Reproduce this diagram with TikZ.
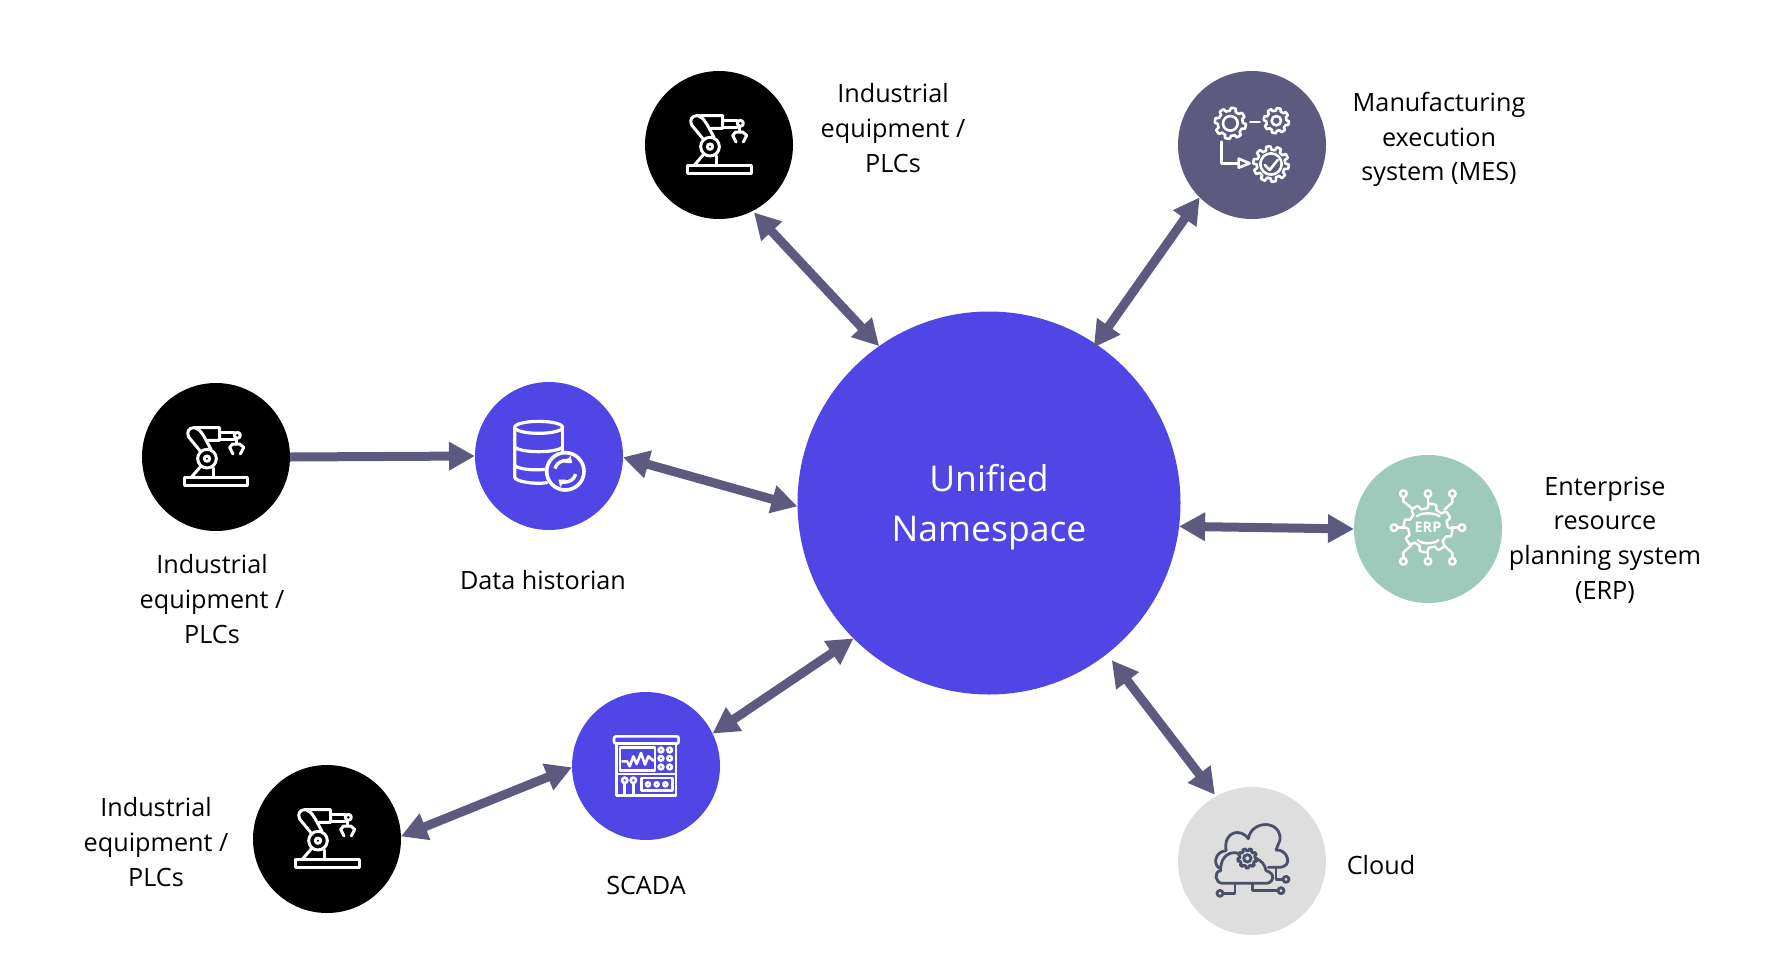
\documentclass[tikz,border=0pt]{standalone}
\usepackage{fontspec}
\setmainfont{Open Sans}
\usetikzlibrary{arrows.meta}
\definecolor{uns}{RGB}{79,70,229}
\definecolor{slate}{RGB}{92,91,127}
\definecolor{mint}{RGB}{158,202,188}
\definecolor{pale}{RGB}{222,222,222}
\definecolor{ink}{RGB}{74,80,104}
\newcommand{\gearcurve}[4]{%
  \draw plot[domain=0:360,samples=181,variable=\t]
  ({#1+#3*(1+.11*max(-1,min(1,3*sin(#4*\t))))*cos(\t)},
   {#2+#3*(1+.11*max(-1,min(1,3*sin(#4*\t))))*sin(\t)}) -- cycle;}
\tikzset{
  disc/.style={circle,inner sep=0pt,outer sep=0pt,minimum size=148pt,fill=#1},
  caption/.style={align=center,text=black,inner sep=0pt,font=\fontsize{25.2}{34.8}\selectfont},
  twoway/.style={slate,line width=9pt,{Triangle[length=26pt,width=27pt]}-{Triangle[length=26pt,width=27pt]}},
  oneway/.style={slate,line width=9pt,-{Triangle[length=26pt,width=27pt]}},
  iconline/.style={line width=3pt,line join=round,line cap=round},
  roboticon/.pic={
    \begin{scope}[x=.3333pt,y=-.3333pt,shift={(-267,-285)},white,iconline]
      \draw (172,347) rectangle (363,370);
      \draw (222,270) -- (185,225) .. controls (178,210) and (185,197) .. (200,197) -- (278,197) -- (278,235) -- (242,235);
      \draw (205,198) .. controls (222,205) and (225,215) .. (232,225) -- (252,262);
      \draw (240,290) circle[radius=28];
      \draw (240,290) circle[radius=8];
      \draw (222,312) -- (192,347);
      \draw (258,318) -- (258,347);
      \draw (278,212) -- (322,212);
      \draw (278,232) -- (322,232);
      \draw (331,220) circle[radius=9];
      \draw (327,232) -- (327,245);
      \draw (308,256) -- (318,276);
      \draw (350,256) -- (340,276);
      \draw (308,256) -- (317,246) -- (338,246) -- (350,256);
    \end{scope}},
  mesicon/.pic={
    \begin{scope}[x=.3333pt,y=-.3333pt,shift={(-245,-255)},white,iconline,line width=2.6pt]
      \gearcurve{180}{190}{42}{8}
      \draw (180,190) circle[radius=22];
      \gearcurve{318}{182}{34}{8}
      \draw (318,182) circle[radius=14];
      \draw (240,186) -- (268,186);
      \gearcurve{302}{312}{48}{10}
      \draw (302,312) circle[radius=32];
      \draw (283,315) -- (298,330) -- (322,300);
      \draw (153,245) -- (153,310) -- (205,310);
      \draw (205,296) -- (238,310) -- (205,323) -- cycle;
    \end{scope}},
  dbicon/.pic={
    \begin{scope}[x=.3333pt,y=-.3333pt,shift={(-251,-256)},white,iconline,line width=3.2pt]
      \draw (220,170) ellipse[x radius=72,y radius=18];
      \draw (148,170) -- (148,320) .. controls (150,332) and (205,342) .. (245,336);
      \draw (292,170) -- (292,245);
      \draw (148,228) .. controls (160,248) and (280,248) .. (292,228);
      \draw (148,284) .. controls (158,296) and (205,300) .. (240,296);
      \draw[line width=3.6pt,fill=uns] (300,302) circle[radius=56];
      \draw[line width=3.4pt,line cap=butt,-{Triangle[length=6pt,width=9pt]}] (300,302) ++(195:32) arc[start angle=195,end angle=310,radius=32];
      \draw[line width=3.4pt,line cap=butt,-{Triangle[length=6pt,width=9pt]}] (300,302) ++(15:32) arc[start angle=15,end angle=130,radius=32];
    \end{scope}},
  erpicon/.pic={
    \begin{scope}[x=.3333pt,y=-.3333pt,shift={(-249,-250)},white,iconline,line width=2.4pt]
      \gearcurve{249}{247}{66}{8}
      \draw (215,212) .. controls (228,200) and (270,200) .. (283,212);
      \draw (218,283) .. controls (230,296) and (268,296) .. (280,283);
      \foreach \px/\py in {175/144,249/144,322/144,147/246,351/246,175/347,249/347,322/347}
        \draw (\px,\py) circle[radius=10];
      \draw (175,154) -- (175,167) -- (204,190);
      \draw (249,154) -- (249,172);
      \draw (322,154) -- (322,170) -- (298,192);
      \draw (157,246) -- (178,246);
      \draw (341,246) -- (320,246);
      \draw (175,337) -- (175,320) -- (198,300);
      \draw (249,337) -- (249,318);
      \draw (322,337) -- (322,322) -- (298,300);
      \node[text=white,inner sep=0pt,font=\fontsize{14.5}{16}\selectfont\bfseries] (erpword) at (249,246) {ERP};
    \end{scope}},
  scadaicon/.pic={
    \begin{scope}[x=.3333pt,y=-.3333pt,shift={(-243,-244)},white,iconline,line width=2.6pt]
      \draw[rounded corners=2pt] (147,155) rectangle (341,177);
      \draw (155,177) rectangle (333,332);
      \draw (155,268) -- (333,268);
      \draw (165,188) rectangle (270,258);
      \draw (172,230) -- (186,230) -- (194,245) -- (205,215) -- (215,238) -- (228,205) -- (240,240) -- (250,215) -- (265,228);
      \foreach \px/\py in {288/196,314/196,288/221,314/221,288/247,314/247}
        \draw (\px,\py) circle[radius=7];
      \draw (179,287) circle[radius=8];
      \draw (205,287) circle[radius=8];
      \draw (179,295) -- (179,332);
      \draw (205,295) -- (205,332);
      \draw (230,280) rectangle (322,318);
      \foreach \px in {249,275,301}
        \draw (\px,299) circle[radius=6];
    \end{scope}},
  cloudicon/.pic={
    \begin{scope}[x=.3333pt,y=-.3333pt,shift={(-246,-243)},ink,iconline,line width=2.8pt]
      \draw (168,212) .. controls (160,150) and (215,145) .. (235,176) .. controls (245,118) and (335,120) .. (330,180) -- (318,210) .. controls (350,205) and (375,262) .. (325,262) -- (295,262);
      \draw (168,212) .. controls (130,215) and (130,262) .. (152,265);
      \draw (152,272) .. controls (150,225) and (185,210) .. (210,222);
      \draw (255,235) .. controls (275,240) and (285,255) .. (288,272) .. controls (320,280) and (310,312) .. (285,310) -- (158,310) .. controls (135,310) and (130,275) .. (152,272);
      \gearcurve{232}{235}{26}{9}
      \draw (232,235) circle[radius=11];
      \draw (195,310) -- (195,340) -- (160,340);
      \draw (150,340) circle[radius=9];
      \draw (248,310) -- (248,332) -- (323,332);
      \draw (333,332) circle[radius=9];
      \draw (318,262) -- (318,298) -- (338,298);
      \draw (348,298) circle[radius=9];
    \end{scope}},
}
\begin{document}
\begin{tikzpicture}[x=1pt,y=-1pt]
  \path[use as bounding box,fill=white] (0,0) rectangle (1770,980);

  \node[circle,inner sep=0pt,outer sep=0pt,minimum size=383pt,fill=uns] (big) at (989,503) {};
  \node[text=white,align=center,inner sep=0pt,font=\fontsize{35.5}{50}\selectfont] (bigword) at (989,507) {Unified\\Namespace};

  \node[disc=black] (robottop) at (719,145) {};
  \node[disc=slate] (mes) at (1252,145) {};
  \node[disc=black] (robotleft) at (216,457) {};
  \node[disc=uns] (hist) at (549,456) {};
  \node[disc=mint] (erp) at (1428,529) {};
  \node[disc=uns] (scada) at (646,766) {};
  \node[disc=black] (robotlow) at (327,839) {};
  \node[disc=pale] (cloud) at (1252,861) {};

  \pic at (robottop.center) {roboticon};
  \pic at (robotleft.center) {roboticon};
  \pic at (robotlow.center) {roboticon};
  \pic at (mes.center) {mesicon};
  \pic at (hist.center) {dbicon};
  \pic at (erp.center) {erpicon};
  \pic at (scada.center) {scadaicon};
  \pic at (cloud.center) {cloudicon};

  \draw[twoway,shorten <=2pt] (robottop.-63.8) -- (big.125.6);
  \draw[twoway,shorten >=-4pt] (mes.225) -- (big.56.5);
  \draw[oneway] (robotleft.east) -- (hist.west);
  \draw[twoway] (hist.-1) -- (big.181);
  \draw[twoway] (scada.26.6) -- (big.225.4);
  \draw[twoway] (robotlow.2) -- (scada.181);
  \draw[twoway] (big.-7.7) -- (erp.west);
  \draw[twoway,shorten >=8pt,shorten <=2pt] (cloud.119.6) -- (big.-52.3);

  \node[caption] (t1) at (893,128) {Industrial\\equipment /\\PLCs};
  \node[caption] (t2) at (1439,139.5) {Manufacturing\\execution\\system (MES)};
  \node[caption] (t3) at (212,599) {Industrial\\equipment /\\PLCs};
  \node[caption] (t4) at (543,580) {Data historian};
  \node[caption] (t5) at (1605,540) {Enterprise\\resource\\planning system\\(ERP)};
  \node[caption] (t6) at (156,842) {Industrial\\equipment /\\PLCs};
  \node[caption] (t7) at (646,885) {SCADA};
  \node[caption] (t8) at (1381,865) {Cloud};
\end{tikzpicture}
\end{document}
